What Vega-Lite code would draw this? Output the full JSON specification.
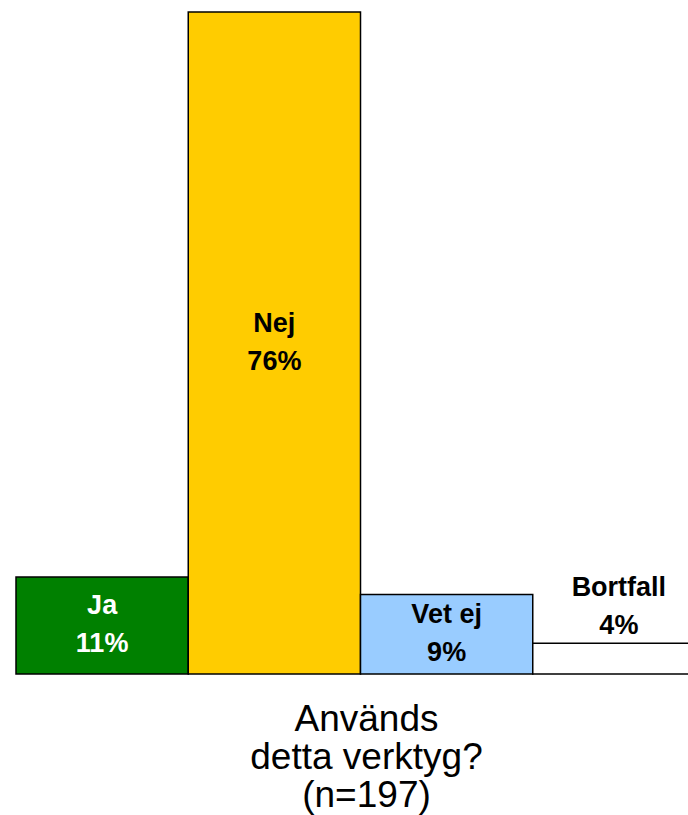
{
  "$schema": "https://vega.github.io/schema/vega-lite/v6.json",
  "autosize": "none",
  "width": 672,
  "height": 662,
  "padding": {"left": 16, "top": 12, "right": 0, "bottom": 141},
  "background": "white",
  "config": {"view": {"stroke": null}, "font": "Liberation Sans"},
  "data": {
    "values": [
      {"cat": "Ja", "value": 11.17, "pct": "11%"},
      {"cat": "Nej", "value": 76.14, "pct": "76%"},
      {"cat": "Vet ej", "value": 9.14, "pct": "9%"},
      {"cat": "Bortfall", "value": 3.55, "pct": "4%"}
    ]
  },
  "transform": [
    {"calculate": "datum.value / 2", "as": "mid"},
    {"calculate": "[datum.cat, datum.pct]", "as": "label"}
  ],
  "encoding": {
    "x": {
      "field": "cat",
      "type": "nominal",
      "sort": ["Ja", "Nej", "Vet ej", "Bortfall"],
      "scale": {"range": [0, 689], "paddingInner": 0, "paddingOuter": 0},
      "axis": {
        "labels": false,
        "ticks": false,
        "domain": false,
        "title": ["Används", "detta verktyg?", "(n=197)"],
        "titleFontSize": 37,
        "titleFontWeight": "normal",
        "titleColor": "black",
        "titleLineHeight": 38,
        "titleX": 350,
        "titleY": 56,
        "titleAlign": "center",
        "titleBaseline": "alphabetic"
      }
    }
  },
  "layer": [
    {
      "mark": {"type": "bar", "stroke": "black", "strokeWidth": 1.5},
      "encoding": {
        "y": {
          "field": "value",
          "type": "quantitative",
          "scale": {"domain": [0, 76.14], "nice": false, "zero": true},
          "axis": null
        },
        "fill": {
          "field": "cat",
          "type": "nominal",
          "scale": {
            "domain": ["Ja", "Nej", "Vet ej", "Bortfall"],
            "range": ["#008000", "#FFCC00", "#99CCFF", "#FFFFFF"]
          },
          "legend": null
        }
      }
    },
    {
      "transform": [{"filter": "datum.cat !== 'Bortfall'"}],
      "mark": {"type": "text", "fontSize": 27, "fontWeight": "bold", "lineHeight": 38, "baseline": "middle", "align": "center", "dy": -19},
      "encoding": {
        "y": {"field": "mid", "type": "quantitative"},
        "text": {"field": "label"},
        "color": {"condition": {"test": "datum.cat === 'Ja'", "value": "white"}, "value": "black"}
      }
    },
    {
      "transform": [{"filter": "datum.cat === 'Bortfall'"}],
      "mark": {"type": "text", "fontSize": 27, "fontWeight": "bold", "lineHeight": 38, "baseline": "middle", "align": "center", "dy": -55, "color": "black"},
      "encoding": {
        "y": {"field": "value", "type": "quantitative"},
        "text": {"field": "label"}
      }
    }
  ]
}
